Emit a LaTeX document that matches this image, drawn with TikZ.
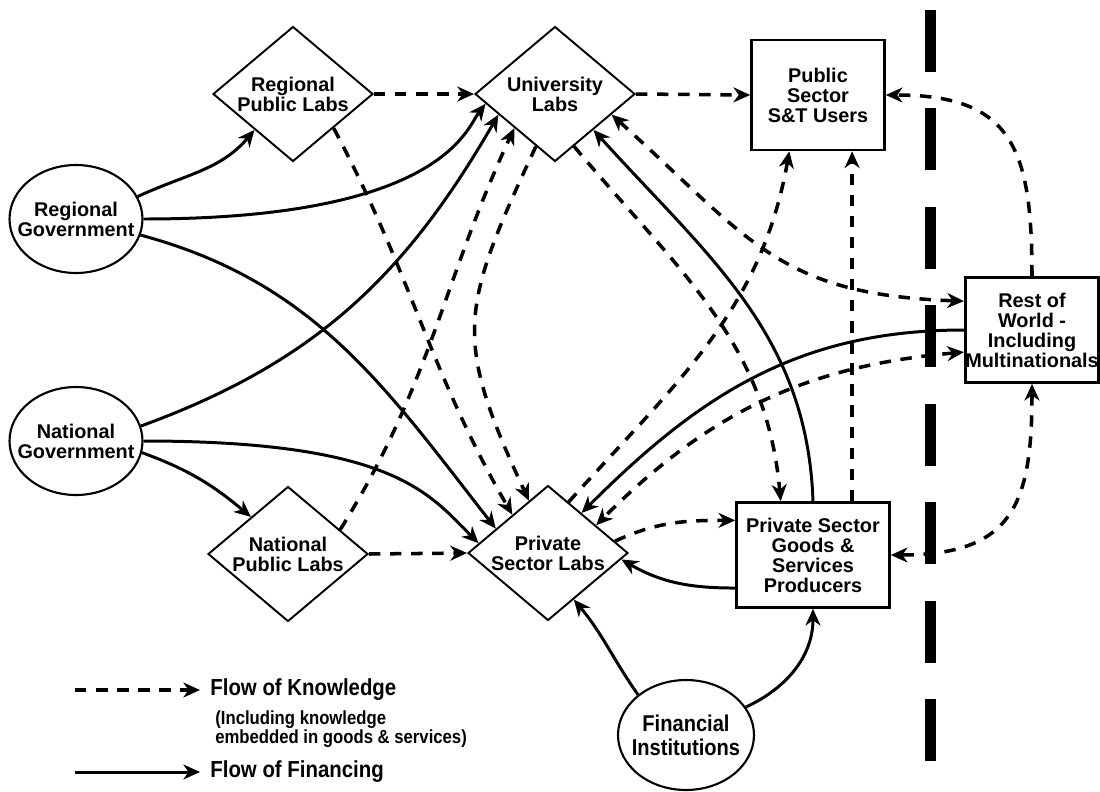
\documentclass[tikz,border=0pt]{standalone}
\usepackage{fontspec}
\setmainfont{Liberation Sans}
\newfontfamily\narrowfont[FakeStretch=0.88]{Liberation Sans}
\usetikzlibrary{shapes.geometric,arrows.meta}

\tikzset{
  unit/.style={draw, align=center, font=\bfseries\fontsize{11.3}{11.4}\selectfont},
  lab/.style={unit, diamond, shape aspect=1.2, line width=1.1pt, inner sep=0pt,
    minimum width=3.2cm, minimum height=2.7cm},
  gov/.style={unit, ellipse, line width=1.2pt, inner xsep=-8pt, inner ysep=0pt,
    minimum width=2.66cm, minimum height=2.16cm},
  sector/.style={unit, rectangle, line width=1.5pt, inner sep=0pt},
  fin/.style={->, line width=1.7pt},
  know/.style={->, line width=2pt, dash pattern=on 6.5pt off 5.5pt},
  both/.style={know, <->},
  keytext/.style={font=\narrowfont\bfseries\fontsize{13.2}{13.8}\selectfont,
    anchor=west, inner xsep=5.7pt, inner ysep=0pt}
}

\begin{document}
\begin{tikzpicture}[x=0.02cm,y=0.02cm,>={Stealth[length=9.5pt,width=8.5pt,inset=3pt]}]
\useasboundingbox (0,0) rectangle (1100,-792);
\draw[line width=0.22cm,dash pattern=on 1.24cm off 0.73cm] (930,-10) -- (930,-762);

\node[lab] (rpl) at (293,-94) {Regional\\Public Labs};
\node[lab] (ul) at (555,-94) {University\\Labs};
\node[lab] (npl) at (288,-554) {National\\Public Labs};
\node[lab] (psl) at (548,-553) {Private\\Sector Labs};
\node[gov] (rg) at (76,-219) {Regional\\Government};
\node[gov] (ng) at (76,-441) {National\\Government};
\node[sector, minimum width=2.66cm, minimum height=2.2cm] (psstu) at (818,-95) {Public\\Sector\\S\&T Users};
\node[sector, minimum width=3.06cm, minimum height=2.1cm] (psgsp) at (813,-555) {Private Sector\\Goods \&\\Services\\Producers};
\node[sector, minimum width=2.66cm, minimum height=2.1cm] (row) at (1032,-330) {Rest of\\World -\\Including\\Multinationals};
\node[gov, font=\narrowfont\bfseries\fontsize{13}{13.6}\selectfont,
  minimum width=2.72cm, minimum height=2.2cm] (fi) at (686,-735) {Financial\\Institutions};

\draw[fin] (rg.20) to[out=25,in=-130] (rpl.-137);
\draw[fin] (rg.0) to[out=0,in=-128,out distance=6cm,in distance=0.6cm] (ul.188);
\draw[fin] (rg.-14) to[out=-15,in=128] (psl.155);
\draw[fin] (ng.13) to[out=20,in=-120] (ul.200);
\draw[fin] (ng.0) to[out=0,in=135,out distance=5cm,in distance=1.4cm] (psl.172);
\draw[fin] (ng.-10) to[out=-20,in=140] (npl.135);
\draw[fin] (psgsp.north) to[out=92,in=-48] (ul.-43);
\draw[fin] (row.west) to[out=180,in=45] (psl.50);
\draw[fin] (psgsp.203) to[out=180,in=-30] (psl.-5);
\draw[fin] (fi.140) to[out=125,in=-50] (psl.-61);
\draw[fin] (fi.25) to[out=25,in=-90] (psgsp.south);

\draw[know] (rpl.east) -- (ul.west);
\draw[know] (ul.east) -- (psstu.west);
\draw[know] (rpl.-40) to[out=-62,in=120] (psl.133);
\draw[know] (npl.25) to[out=58,in=-115] (ul.220);
\draw[know] (ul.250) to[out=-115,in=115,looseness=1.3] (psl.110);
\draw[know] (npl.east) -- (psl.west);
\draw[know] (ul.-70) to[out=-50,in=95] (psgsp.121);
\draw[both] (ul.-20) to[out=-42,in=178,looseness=1.2] (row.157);
\draw[know] (psl.68) to[out=48,in=-100] (psstu.-117);
\draw[know] (psgsp.54) -- (psgsp.54 |- psstu.south);
\draw[know] (row.north) to[out=90,in=0,looseness=1.4] (psstu.east);
\draw[both] (row.198) to[out=185,in=45] (psl.30);
\draw[know] (psl.10) to[out=25,in=180] (psgsp.156);
\draw[both] (row.south) to[out=-90,in=0,looseness=1.4] (psgsp.east);

\coordinate (kfrom) at (75,-690);
\node[keytext] (kflow) at (200,-690) {Flow of Knowledge};
\node[keytext, font=\narrowfont\bfseries\fontsize{10.8}{10.8}\selectfont, align=left] (knote) at (205,-729) {(Including knowledge\\embedded in goods \& services)};
\coordinate (ffrom) at (75,-772);
\node[keytext] (fflow) at (200,-772) {Flow of Financing};
\draw[know] (kfrom) -- (kflow.west);
\draw[fin] (ffrom) -- (fflow.west);
\end{tikzpicture}
\end{document}
